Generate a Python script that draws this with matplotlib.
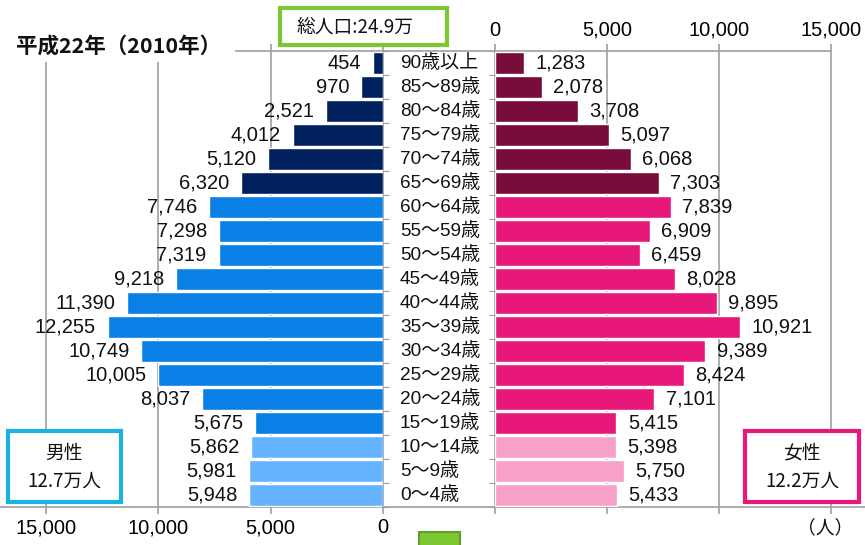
import numpy as np
import matplotlib
matplotlib.use("Agg")
import matplotlib.pyplot as plt
from matplotlib.patches import Rectangle

plt.rcParams['font.family'] = ['Liberation Sans', 'Noto Sans CJK JP', 'DejaVu Sans']
CJK = ['Noto Sans CJK JP', 'DejaVu Sans']

ages = ["90歳以上", "85〜89歳", "80〜84歳", "75〜79歳", "70〜74歳", "65〜69歳",
        "60〜64歳", "55〜59歳", "50〜54歳", "45〜49歳", "40〜44歳", "35〜39歳",
        "30〜34歳", "25〜29歳", "20〜24歳", "15〜19歳", "10〜14歳", "5〜9歳", "0〜4歳"]
male = [454, 970, 2521, 4012, 5120, 6320, 7746, 7298, 7319, 9218, 11390, 12255,
        10749, 10005, 8037, 5675, 5862, 5981, 5948]
female = [1283, 2078, 3708, 5097, 6068, 7303, 7839, 6909, 6459, 8028, 9895, 10921,
          9389, 8424, 7101, 5415, 5398, 5750, 5433]
groups = ["old"] * 6 + ["work"] * 10 + ["young"] * 3
ticks = [0, 5000, 10000, 15000]
title = "平成22年（2010年）"
total_label = "総人口:24.9万"
male_box = ("男性", "12.7万人")
female_box = ("女性", "12.2万人")
unit = "（人）"

male_colors = {"old": "#00205E", "work": "#0A7FE6", "young": "#66B3FF"}
female_colors = {"old": "#780C3B", "work": "#E8177A", "young": "#F7A1C8"}

W, H = 865, 545
fig = plt.figure(figsize=(W / 100, H / 100), dpi=100)

def fx(x):
    return x / W

def fy(y):
    return 1 - y / H

top_px, bot_px = 51, 507
axL = fig.add_axes([0, fy(bot_px), fx(383), (bot_px - top_px) / H])
axR = fig.add_axes([fx(383), fy(bot_px), 1 - fx(383), (bot_px - top_px) / H])

grid_c = "#A0A0A0"
fs = 14.5
n = len(ages)
y = np.arange(n)

axL.barh(y, male, height=0.92, color=[male_colors[g] for g in groups],
         edgecolor="white", linewidth=1, zorder=3)
axR.barh(y, female, height=0.92, color=[female_colors[g] for g in groups],
         edgecolor="white", linewidth=1, zorder=3)

axL.set_xlim(17047, 0)
axR.set_xlim(-5000, 16518)
fmt = matplotlib.ticker.FuncFormatter(lambda v, p: f"{int(v):,}")
for ax in (axL, axR):
    ax.set_ylim(n - 0.5, -0.5)
    ax.set_xticks(ticks)
    ax.xaxis.set_major_formatter(fmt)
    ax.grid(axis="x", color=grid_c, linewidth=1.2, zorder=0)
    ax.xaxis.set_ticks_position("both")
    ax.tick_params(axis="x", direction="out", length=5, width=1.2, color=grid_c,
                   labelsize=fs, pad=3)
    for s in ("top", "bottom"):
        ax.spines[s].set_color(grid_c)
        ax.spines[s].set_linewidth(1.2)
    ax.spines["right"].set_visible(False)
    ax.set_yticks(np.arange(-0.5, n, 1))
    ax.set_yticklabels([])
    ax.tick_params(axis="y", direction="out", length=4, color=grid_c)
    ax.set_facecolor("none")

axL.tick_params(axis="x", labeltop=False, labelbottom=True)
axR.tick_params(axis="x", labeltop=True, labelbottom=False)
axR.spines["top"].set_bounds(-5000, 15000)

axL.spines["left"].set_visible(False)
axL.spines["right"].set_visible(True)
axL.spines["right"].set_color(grid_c)
axL.spines["right"].set_linewidth(1.2)
axL.yaxis.tick_right()

axR.spines["left"].set_position(("data", 0))
axR.spines["left"].set_color(grid_c)
axR.spines["left"].set_linewidth(1.2)
axR.yaxis.tick_left()

for i, v in enumerate(male):
    axL.annotate(f"{v:,}", (v, i), xytext=(-8.6, 0), textcoords="offset points",
                 ha="right", va="center", fontsize=fs, color="#111111", zorder=4)
for i, v in enumerate(female):
    axR.annotate(f"{v:,}", (v, i), xytext=(8.3, 0), textcoords="offset points",
                 ha="left", va="center", fontsize=fs, color="#111111", zorder=4)
for i, lab in enumerate(ages):
    axR.text((400 - 495) * 15000 / 336, i, lab, ha="left", va="center",
             fontsize=13.7, color="#111111")

# white cover behind title
fig.patches.append(Rectangle((0, fy(62)), fx(235), (62 - 38) / H,
                             transform=fig.transFigure, facecolor="white",
                             edgecolor="none", zorder=5))
fig.text(fx(16), fy(46), title, fontsize=15.5, fontweight="bold", ha="left",
         va="center", color="#111111", zorder=6, family=CJK)

def box(x0, y0, x1, y1, color, lw=3):
    fig.patches.append(Rectangle((fx(x0), fy(y1)), fx(x1 - x0), (y1 - y0) / H,
                                 transform=fig.transFigure, facecolor="white",
                                 edgecolor=color, linewidth=lw, zorder=5))

box(280, 8, 447, 45, "#7DC832")
fig.text(fx(355), fy(27), total_label, fontsize=13.5, ha="center", va="center",
         color="#111111", zorder=6, family=CJK)

box(8, 431, 121, 502, "#1BB1E0")
fig.text(fx(64), fy(453), male_box[0], fontsize=13.5, ha="center", va="center",
         color="#111111", zorder=6, family=CJK)
fig.text(fx(64), fy(481), male_box[1], fontsize=13.5, ha="center", va="center",
         color="#111111", zorder=6, family=CJK)

box(745, 431, 859, 502, "#E8177A")
fig.text(fx(802), fy(453), female_box[0], fontsize=13.5, ha="center", va="center",
         color="#111111", zorder=6, family=CJK)
fig.text(fx(802), fy(481), female_box[1], fontsize=13.5, ha="center", va="center",
         color="#111111", zorder=6, family=CJK)

fig.patches.append(Rectangle((fx(419), fy(550)), fx(41), 18 / H,
                             transform=fig.transFigure, facecolor="#7DC832",
                             edgecolor="#5E9E2A", linewidth=1.5, zorder=5))

fig.text(fx(825), fy(528), unit, fontsize=13.5, ha="center", va="center",
         color="#111111", family=CJK)

fig.savefig("out.png", dpi=100)
